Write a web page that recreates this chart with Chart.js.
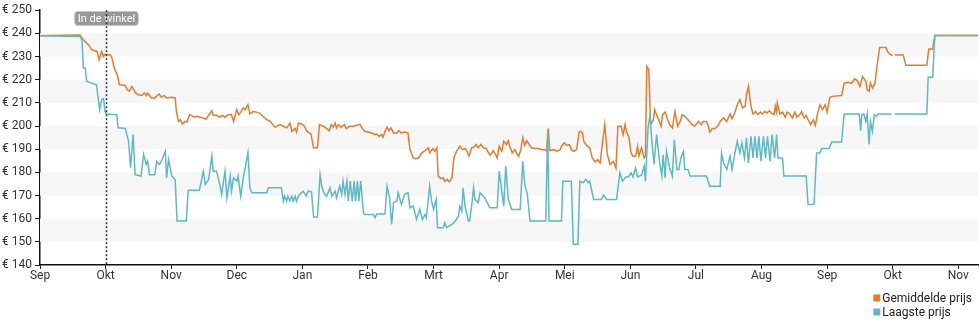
<!DOCTYPE html>
<html>
<head>
    <title>Prijsverloop</title>
    <script src="https://cdn.jsdelivr.net/npm/chart.js"></script>
    <style>
        body {
            margin: 0;
            background: #fff;
            font-family: Roboto, Arial, sans-serif;
        }

        .chart-container {
            width: 980px;
            height: 325px;
        }
    </style>
</head>
<body>
    <div class="chart-container">
        <canvas id="prijs-chart" width="980" height="325"></canvas>
    </div>

    <script>
        // x-as in maanden vanaf september (0 = Sep, 14 = Nov volgend jaar)
        const maandLabels = ['Sep', 'Okt', 'Nov', 'Dec', 'Jan', 'Feb', 'Mrt', 'Apr', 'Mei', 'Jun', 'Jul', 'Aug', 'Sep', 'Okt', 'Nov'];
        const prijsTicks = [140, 150, 160, 170, 180, 190, 200, 210, 220, 230, 240, 250];
        const inWinkelPos = 1;

        // [positie, prijs]; null = geen meting
        const gemiddeldePrijs = [
            [0, 239], [0.61, 239.3], [0.66, 237.2], [0.74, 235], [0.79, 232.9], [0.84, 232.5], [0.87, 232.2], [0.90, 228.6],
            [0.94, 232.2], [0.97, 230], [0.99, 231], [1.07, 230.7], [1.09, 230], [1.14, 224.3], [1.18, 222], [1.21, 217.8],
            [1.30, 217.5], [1.33, 215.7], [1.36, 215], [1.40, 217.1], [1.43, 215.7], [1.46, 214.2], [1.50, 213.5], [1.55, 213.2],
            [1.59, 214.2], [1.62, 213.2], [1.64, 214.2], [1.67, 213.2], [1.70, 212.1], [1.75, 212.1], [1.79, 213.2], [1.82, 213.8],
            [1.85, 212.4], [1.89, 213.2], [1.93, 212.1], [2.01, 212.4], [2.06, 212.1], [2.08, 206.3], [2.11, 202], [2.14, 202.7],
            [2.17, 200.9], [2.21, 202], [2.24, 201.7], [2.28, 204.9], [2.31, 204.6], [2.35, 203.8], [2.39, 204.2], [2.44, 203.8],
            [2.49, 203.5], [2.53, 202.9], [2.57, 204.6], [2.62, 206.6], [2.64, 204.6], [2.69, 204.6], [2.74, 203.8], [2.78, 204.6],
            [2.82, 203.8], [2.87, 204.9], [2.92, 204.9], [2.95, 202], [3.00, 207.1], [3.03, 204.9], [3.06, 206], [3.10, 207.8],
            [3.13, 207.1], [3.17, 209.2], [3.20, 205.2], [3.25, 206.3], [3.30, 206], [3.35, 205.6], [3.40, 204.2], [3.46, 202.7],
            [3.51, 202], [3.58, 199.5], [3.66, 200.6], [3.71, 199.9], [3.76, 199.2], [3.81, 201.3], [3.84, 197.7], [3.89, 198.9],
            [3.91, 197.4], [3.94, 201.2], [3.99, 200.9], [4.03, 199.9], [4.07, 197.7], [4.09, 197.4], [4.13, 196.6], [4.17, 190.6],
            [4.23, 190.6], [4.26, 200.6], [4.32, 199.9], [4.37, 198.9], [4.41, 198], [4.44, 200.6], [4.47, 199.5], [4.50, 201.3],
            [4.52, 199.2], [4.55, 200.6], [4.59, 199.5], [4.64, 200.6], [4.67, 198.9], [4.72, 199.9], [4.78, 199.9], [4.83, 200.3],
            [4.88, 200.6], [4.91, 199.2], [4.95, 197.7], [5.00, 197.4], [5.06, 197], [5.10, 196.3], [5.13, 196.6], [5.17, 195.6],
            [5.21, 196.3], [5.23, 195.2], [5.26, 197.7], [5.29, 199.5], [5.32, 198], [5.35, 199.2], [5.39, 197], [5.44, 197],
            [5.47, 198], [5.51, 197], [5.56, 197.4], [5.61, 197], [5.64, 189.8], [5.69, 186.2], [5.72, 185.9], [5.77, 186.2],
            [5.82, 188.4], [5.87, 189.4], [5.92, 190.6], [5.94, 188.4], [5.99, 190.3], [6.02, 189.1], [6.05, 190.6], [6.07, 178.4],
            [6.11, 177.4], [6.15, 177.6], [6.17, 176.2], [6.21, 176.9], [6.24, 175.9], [6.28, 177.6], [6.31, 186.2], [6.35, 189.1],
            [6.40, 191.3], [6.44, 189.8], [6.48, 190.3], [6.51, 189.1], [6.54, 187], [6.58, 190.6], [6.61, 190.8], [6.65, 192],
            [6.68, 190.6], [6.72, 192], [6.76, 190.6], [6.80, 190.3], [6.83, 188.8], [6.86, 187.4], [6.89, 188.4], [6.91, 189.4],
            [6.95, 187.4], [6.97, 186.2], [7.00, 191.3], [7.04, 189.1], [7.07, 193.4], [7.11, 192], [7.14, 193.7], [7.16, 191.3],
            [7.20, 188.4], [7.24, 189.8], [7.27, 188], [7.30, 187], [7.33, 189.8], [7.36, 194.9], [7.39, 191.7], [7.42, 193.7],
            [7.46, 192], [7.49, 190.6], [7.55, 190.3], [7.60, 190.3], [7.65, 189.8], [7.70, 189.8], [7.72, 189.1], [7.75, 198.9],
            [7.77, 189.4], [7.83, 189.8], [7.88, 189.1], [7.93, 189.8], [7.95, 191.3], [7.99, 192.7], [8.03, 191.7], [8.07, 192],
            [8.10, 189.8], [8.14, 189.1], [8.18, 189.8], [8.22, 197.4], [8.24, 197.7], [8.27, 197], [8.29, 193.4], [8.33, 191.7],
            [8.38, 190.6], [8.42, 186.2], [8.46, 184.5], [8.50, 185.5], [8.54, 184.1], [8.56, 189.1], [8.61, 200.6], [8.65, 187.7],
            [8.69, 183.4], [8.74, 184.8], [8.78, 181.9], [8.81, 199.9], [8.86, 199.9], [8.89, 196.3], [8.92, 200.6], [8.94, 197.7],
            [8.98, 194.9], [9.01, 188.4], [9.04, 187], [9.08, 187], [9.11, 191.3], [9.13, 187], [9.17, 190.6], [9.21, 186.2],
            [9.23, 187], [9.25, 225.7], [9.28, 224.3], [9.31, 200.6], [9.35, 202.7], [9.37, 207.1], [9.40, 204.9], [9.44, 202],
            [9.47, 199.9], [9.49, 204.9], [9.53, 206], [9.57, 202.7], [9.60, 200.6], [9.64, 199.2], [9.68, 206.3], [9.72, 199.9],
            [9.76, 202], [9.79, 204.9], [9.83, 204.2], [9.88, 202.7], [9.93, 200.9], [9.98, 199.9], [10.04, 202], [10.08, 200.6],
            [10.11, 202], [10.16, 202], [10.19, 199.9], [10.21, 197.4], [10.25, 198.9], [10.29, 198.9], [10.33, 199.9], [10.37, 202],
            [10.42, 203.5], [10.47, 202], [10.52, 205.2], [10.55, 203.2], [10.59, 205.6], [10.63, 209.2], [10.67, 211.4], [10.71, 207.8],
            [10.75, 208.5], [10.77, 213.5], [10.80, 217.1], [10.84, 208.5], [10.87, 205.2], [10.91, 206.3], [10.94, 204.9], [10.98, 206],
            [11.01, 205.2], [11.05, 206.3], [11.08, 205.6], [11.12, 206.6], [11.15, 205.6], [11.19, 204.9], [11.21, 208.5], [11.23, 206],
            [11.24, 209.9], [11.28, 205.2], [11.32, 206], [11.36, 203.8], [11.39, 206], [11.43, 205.2], [11.47, 203.5], [11.51, 206],
            [11.54, 203.8], [11.59, 205.2], [11.61, 206.3], [11.65, 203.5], [11.68, 204.6], [11.71, 202.7], [11.75, 200.6], [11.79, 202.7],
            [11.82, 200.3], [11.85, 204.9], [11.89, 209.2], [11.93, 207.1], [11.97, 209.2], [12.00, 206], [12.04, 212.4], [12.08, 212.8],
            [12.22, 213.2], [12.26, 218.5], [12.32, 218.9], [12.37, 218.4], [12.42, 220.4], [12.46, 219.6], [12.50, 217.1], [12.54, 221.4],
            [12.59, 219.3], [12.61, 215.7], [12.64, 215], [12.66, 218.5], [12.69, 216.4], [12.73, 218.5], [12.76, 225.7], [12.80, 233.9],
            [12.90, 233.9], [12.92, 232.2], [12.97, 230.7], [13.00, 230.7], [13.01, null], [13.03, 230.7], [13.16, 230.7], [13.20, 226.2],
            [13.52, 226.2], [13.55, 233.3], [13.61, 233.3], [13.63, 237.2], [13.64, 239.1], [14.30, 239.1]
        ];

        const laagstePrijs = [
            [0, 239], [0.61, 238.6], [0.64, 237.2], [0.66, 225], [0.69, 225], [0.71, 219.3], [0.79, 218.5], [0.86, 217.8],
            [0.87, 215.7], [0.91, 207.1], [0.94, 211.4], [0.97, 211.8], [0.99, 206.3], [1.01, 205.2], [1.17, 204.9], [1.19, 199.2],
            [1.30, 198.9], [1.35, 193.4], [1.38, 182], [1.42, 196.3], [1.45, 179], [1.54, 178.4], [1.58, 187.7], [1.62, 183.4],
            [1.64, 184.8], [1.67, 179], [1.75, 179], [1.78, 184.8], [1.82, 183.4], [1.85, 184.8], [1.91, 189.1], [1.93, 177.6],
            [1.96, 185.5], [2.01, 178.4], [2.06, 176.9], [2.09, 159], [2.23, 159], [2.26, 172.3], [2.43, 172.3], [2.49, 180.5],
            [2.52, 174.8], [2.57, 176.9], [2.62, 187], [2.64, 180.5], [2.69, 180.5], [2.74, 174.8], [2.77, 170.5], [2.82, 180.5],
            [2.85, 169], [2.90, 178.4], [2.92, 171.9], [2.95, 177.6], [3.00, 176.2], [3.02, 178.4], [3.06, 169.7], [3.10, 177.6],
            [3.17, 188.4], [3.20, 173.3], [3.23, 171.2], [3.46, 171.2], [3.48, 173.3], [3.68, 173.3], [3.71, 167.6], [3.73, 169.7],
            [3.76, 167.6], [3.78, 169.7], [3.81, 167.6], [3.84, 169.7], [3.86, 167.6], [3.89, 169.7], [3.91, 167.6], [3.94, 169.7],
            [3.96, 170.5], [4.01, 171.9], [4.06, 169.7], [4.09, 172], [4.14, 171.5], [4.17, 160.7], [4.23, 160.7], [4.27, 179],
            [4.30, 173.3], [4.34, 170.5], [4.37, 169.7], [4.42, 173.3], [4.45, 169.7], [4.50, 171.9], [4.52, 169], [4.57, 174],
            [4.60, 170.5], [4.62, 176.2], [4.65, 170.5], [4.68, 176.2], [4.70, 167.6], [4.73, 176.2], [4.76, 167.6], [4.79, 176.2],
            [4.81, 167.6], [4.84, 176.2], [4.86, 167.6], [4.89, 176.2], [4.93, 162.6], [4.95, 161.8], [5.08, 161.8], [5.11, 160.4],
            [5.13, 162], [5.26, 162], [5.29, 174], [5.33, 169], [5.36, 157.5], [5.39, 166.9], [5.44, 167.6], [5.46, 171.2],
            [5.51, 166.2], [5.56, 170.5], [5.61, 171.2], [5.64, 164.7], [5.69, 165.4], [5.74, 159.7], [5.79, 164], [5.83, 159.7],
            [5.87, 161.8], [5.89, 160.4], [5.94, 174], [5.97, 167.6], [6.00, 164], [6.04, 168.3], [6.06, 156.1], [6.15, 156.1],
            [6.17, 158.2], [6.20, 156.1], [6.28, 157.5], [6.33, 159], [6.38, 161.1], [6.40, 165.4], [6.43, 163.3], [6.45, 173.3],
            [6.48, 165.4], [6.53, 159], [6.55, 159], [6.58, 165.4], [6.61, 173.3], [6.63, 168.3], [6.66, 167.6], [6.68, 166.9],
            [6.71, 171.2], [6.78, 169], [6.86, 164.7], [6.97, 164.7], [7.00, 180.5], [7.04, 171.9], [7.07, 165.4], [7.10, 182.7],
            [7.14, 168.3], [7.19, 164], [7.32, 164], [7.36, 184.8], [7.39, 174.8], [7.43, 170.5], [7.47, 159], [7.71, 159],
            [7.74, 198.5], [7.76, 159], [7.95, 159], [7.97, 176.2], [8.10, 176.2], [8.13, 149], [8.20, 149], [8.23, 176.2],
            [8.28, 175.5], [8.32, 176.9], [8.36, 175.5], [8.38, 176.2], [8.44, 168.3], [8.56, 168.3], [8.59, 170.2], [8.64, 168.3],
            [8.79, 168.3], [8.84, 179.8], [8.88, 176.2], [8.93, 178], [8.97, 178], [9.01, 179.8], [9.04, 178], [9.08, 181.9],
            [9.11, 178], [9.17, 178.8], [9.21, 182.7], [9.23, 176.2], [9.27, 199.2], [9.30, 204.9], [9.32, 196.3], [9.36, 183.4],
            [9.40, 196.3], [9.45, 183.4], [9.48, 178.4], [9.50, 187.7], [9.53, 177.6], [9.55, 189.1], [9.60, 181.9], [9.64, 178.4],
            [9.67, 194.1], [9.71, 181.2], [9.74, 181.2], [9.77, 186.2], [9.81, 189.1], [9.83, 181.2], [9.88, 181.2], [9.91, 178.4],
            [10.16, 178.4], [10.21, 174], [10.37, 174], [10.39, 188.4], [10.42, 184.1], [10.47, 181.2], [10.52, 187], [10.55, 181.2],
            [10.59, 187.7], [10.63, 193.4], [10.67, 188.4], [10.70, 192.7], [10.74, 186.2], [10.77, 194.9], [10.80, 184.1], [10.84, 195.6],
            [10.87, 186.2], [10.90, 195.6], [10.93, 186.2], [10.96, 195.6], [10.99, 184.8], [11.03, 195.6], [11.06, 186.2], [11.09, 195.6],
            [11.13, 184.8], [11.16, 196.3], [11.20, 186.2], [11.23, 196.3], [11.25, 186.2], [11.32, 186.2], [11.34, 178.4], [11.68, 178.4],
            [11.71, 166.1], [11.80, 166.1], [11.84, 188.4], [11.89, 188.4], [11.92, 190.3], [12.03, 190.3], [12.07, 193.1], [12.22, 193.1],
            [12.26, 205.2], [12.49, 205.2], [12.51, 198], [12.53, 204.9], [12.56, 205.2], [12.59, 202], [12.61, 205.2], [12.64, 192],
            [12.66, 202], [12.69, 197.7], [12.72, 204.9], [12.75, 204.2], [12.78, 205.2], [12.98, 205.2], [13.00, null], [13.03, 205.2],
            [13.52, 205.2], [13.54, 221], [13.61, 221], [13.64, 239.1], [14.30, 239.1]
        ];

        const kleurGemiddeld = '#ea7a2c';
        const kleurLaagst = '#5bbac6';
        const fontFamily = 'Roboto, Arial, sans-serif';

        const toPoints = rows => rows.map(([x, y]) => ({ x: x, y: y }));

        // lichtgrijze banden om de 20 euro
        const bandPlugin = {
            id: 'banden',
            beforeDatasetsDraw(chart) {
                const { ctx, chartArea, scales } = chart;
                ctx.save();
                ctx.fillStyle = '#f6f6f6';
                for (let v = 150; v < 250; v += 20) {
                    const top = scales.y.getPixelForValue(v + 10);
                    const bottom = scales.y.getPixelForValue(v);
                    ctx.fillRect(chartArea.left, top, chartArea.right - chartArea.left, bottom - top);
                }
                ctx.restore();
            }
        };

        // stippellijn met label "In de winkel"
        const winkelPlugin = {
            id: 'inWinkel',
            afterDatasetsDraw(chart) {
                const { ctx, chartArea, scales } = chart;
                const x = Math.round(scales.x.getPixelForValue(inWinkelPos)) + 0.5;
                ctx.save();

                const tekst = 'In de winkel';
                ctx.font = '11px ' + fontFamily;
                const w = ctx.measureText(tekst).width + 6;
                ctx.fillStyle = 'rgba(140,140,140,0.9)';
                ctx.strokeStyle = '#c8c8c8';
                ctx.lineWidth = 1;
                ctx.beginPath();
                ctx.roundRect(x - w / 2, 11.5, w, 14, 3);
                ctx.fill();
                ctx.stroke();
                ctx.fillStyle = '#fff';
                ctx.textAlign = 'center';
                ctx.textBaseline = 'middle';
                ctx.fillText(tekst, x, 19);

                ctx.strokeStyle = '#333';
                ctx.lineWidth = 1.5;
                ctx.setLineDash([2, 2]);
                ctx.beginPath();
                ctx.moveTo(x, chartArea.top);
                ctx.lineTo(x, chartArea.bottom);
                ctx.stroke();
                ctx.restore();
            }
        };

        // legenda rechtsonder, items onder elkaar
        const legendaPlugin = {
            id: 'legenda',
            afterDraw(chart) {
                const { ctx } = chart;
                const items = chart.data.datasets.slice().sort((a, b) => a.legendIndex - b.legendIndex);
                ctx.save();
                ctx.font = '12px ' + fontFamily;
                const maxW = Math.max(...items.map(d => ctx.measureText(d.label).width));
                const x = chart.width - 8 - maxW - 9;
                items.forEach((d, i) => {
                    const y = 298 + i * 14;
                    ctx.fillStyle = d.borderColor;
                    ctx.fillRect(x, y - 3.5, 7, 7);
                    ctx.fillStyle = '#222';
                    ctx.textBaseline = 'middle';
                    ctx.fillText(d.label, x + 9, y + 0.5);
                });
                ctx.restore();
            }
        };

        const ctx = document.getElementById('prijs-chart').getContext('2d');
        const chart = new Chart(ctx, {
            type: 'line',
            data: {
                datasets: [
                    {
                        label: 'Gemiddelde prijs',
                        legendIndex: 0,
                        data: toPoints(gemiddeldePrijs),
                        borderColor: kleurGemiddeld,
                        borderWidth: 1.5,
                        order: 1
                    },
                    {
                        label: 'Laagste prijs',
                        legendIndex: 1,
                        data: toPoints(laagstePrijs),
                        borderColor: kleurLaagst,
                        borderWidth: 1.5,
                        order: 0
                    }
                ]
            },
            options: {
                responsive: false,
                animation: false,
                spanGaps: false,
                elements: {
                    point: { radius: 0 },
                    line: { tension: 0 }
                },
                layout: {
                    padding: { top: 10, right: 2, bottom: 40, left: 0 }
                },
                plugins: {
                    legend: { display: false },
                    tooltip: { enabled: false }
                },
                scales: {
                    x: {
                        type: 'linear',
                        min: 0,
                        max: 14.3,
                        afterBuildTicks: scale => {
                            scale.ticks = maandLabels.map((_, i) => ({ value: i }));
                        },
                        afterFit: scale => { scale.height = 20; },
                        ticks: {
                            autoSkip: false,
                            maxRotation: 0,
                            padding: 0,
                            color: '#333',
                            font: { family: fontFamily, size: 12 },
                            callback: value => maandLabels[value]
                        },
                        grid: {
                            drawOnChartArea: false,
                            tickLength: 4,
                            tickColor: '#222'
                        },
                        border: { color: '#111', width: 1.5 }
                    },
                    y: {
                        min: 140,
                        max: 250,
                        afterBuildTicks: scale => {
                            scale.ticks = prijsTicks.map(v => ({ value: v }));
                        },
                        afterFit: scale => { scale.width = 40; },
                        ticks: {
                            padding: 3,
                            color: '#333',
                            font: { family: fontFamily, size: 12 },
                            callback: value => '€ ' + value
                        },
                        grid: {
                            drawOnChartArea: false,
                            tickLength: 5,
                            tickColor: '#222'
                        },
                        border: { color: '#111', width: 1.5 }
                    }
                }
            },
            plugins: [bandPlugin, winkelPlugin, legendaPlugin]
        });
    </script>
</body>
</html>
